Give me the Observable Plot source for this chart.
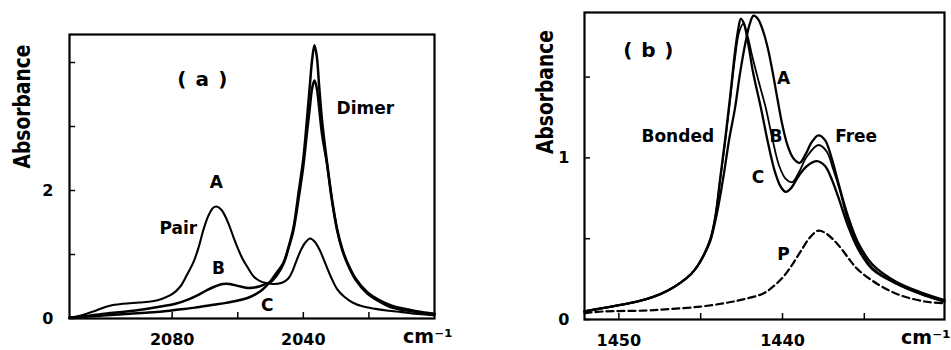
<!DOCTYPE html>
<html>
<head>
<meta charset="utf-8">
<script src="https://cdn.jsdelivr.net/npm/d3@7"></script>
<script src="https://cdn.jsdelivr.net/npm/@observablehq/plot@0.6"></script>
<style>
  html, body { margin: 0; padding: 0; background: #fff; }
  #wrap { position: relative; width: 951px; height: 350px; background: #fff; }
  #wrap svg { position: absolute; top: 0; }
</style>
</head>
<body>
<div id="wrap"></div>
<script>
// ---------- Panel (a): CO stretch region, wavenumber (cm-1) vs absorbance ----------
const aCurveA = [[2111.3,0.01],[2107,0.06],[2103,0.13],[2099,0.20],[2095,0.23],[2090,0.25],[2086,0.27],[2083,0.31],[2080,0.38],[2077.5,0.50],[2075.5,0.68],[2073.5,0.88],[2072,1.10],[2070.5,1.38],[2069,1.60],[2067.5,1.73],[2066.5,1.75],[2065,1.70],[2063.2,1.53],[2061.5,1.30],[2060,1.10],[2058.5,0.93],[2057,0.80],[2055,0.65],[2053,0.58],[2051,0.55],[2049,0.54],[2046.5,0.56],[2044.5,0.63],[2043.3,0.74],[2042.4,0.86],[2041,1.04],[2039.5,1.18],[2037.9,1.25],[2036.5,1.20],[2035,1.07],[2033.3,0.86],[2031.5,0.64],[2029.7,0.46],[2027.5,0.34],[2025,0.25],[2022,0.19],[2018,0.15],[2014,0.12],[2010,0.10],[2005,0.07],[2000,0.05]];
const aCurveB = [[2111.3,0.01],[2106,0.04],[2100,0.08],[2094,0.11],[2088,0.15],[2083,0.19],[2079,0.23],[2075,0.30],[2072,0.37],[2069.5,0.44],[2067,0.50],[2064.5,0.54],[2062.5,0.54],[2060,0.51],[2057.5,0.48],[2055.5,0.48],[2053.5,0.50],[2051.5,0.54],[2050,0.57],[2048,0.68],[2046,0.86],[2044.5,1.10],[2043,1.38],[2041.5,1.85],[2040,2.38],[2039,2.85],[2038,3.30],[2037.3,3.60],[2036.6,3.72],[2035.9,3.60],[2035.2,3.30],[2034.3,2.88],[2032.8,2.42],[2031.3,1.85],[2029.7,1.38],[2028.2,1.08],[2026.6,0.86],[2024,0.60],[2020.5,0.39],[2017,0.27],[2013.5,0.18],[2008,0.12],[2004,0.09],[2000,0.07]];
const aCurveC = [[2111.3,0.01],[2106,0.03],[2100,0.05],[2094,0.07],[2088,0.09],[2083,0.11],[2078,0.14],[2073,0.17],[2068,0.21],[2064,0.24],[2061,0.27],[2057,0.32],[2054.5,0.38],[2052.5,0.45],[2050.5,0.55],[2048.5,0.69],[2046,0.88],[2044.5,1.12],[2043,1.42],[2041.5,1.95],[2040,2.50],[2039,3.05],[2038,3.65],[2037.3,4.05],[2036.6,4.27],[2035.9,4.10],[2035.2,3.65],[2034.3,3.10],[2032.8,2.45],[2031.3,1.88],[2029.7,1.40],[2028.2,1.10],[2026.6,0.88],[2024,0.62],[2020.5,0.41],[2017,0.29],[2013,0.20],[2008,0.14],[2004,0.10],[2000,0.07]];
const aXTicks = [2080, 2060, 2040, 2020];
const aXTickLabels = [2080, 2040];
const aYTicks = [0, 1, 2, 3, 4];
const aYTickLabels = [0, 2];
const aLabelText = ["(a)", "A", "Pair", "B", "C", "Dimer"];
const aLabelX = [2070.8, 2066.5, 2078.1, 2065.9, 2051, 2021.1];
const aLabelY = [3.73, 2.12, 1.41, 0.78, 0.20, 3.28];

// ---------- Panel (b): CH2 bending region ----------
const bCurveA = [[1452.1,0.05],[1451,0.07],[1449.9,0.09],[1448.9,0.11],[1447.9,0.14],[1447,0.18],[1446.2,0.23],[1445.6,0.28],[1445.2,0.33],[1444.8,0.40],[1444.4,0.49],[1444.0,0.66],[1443.6,0.89],[1443.25,1.12],[1442.9,1.31],[1442.6,1.52],[1442.25,1.72],[1442.0,1.83],[1441.77,1.88],[1441.5,1.86],[1441.2,1.79],[1440.9,1.68],[1440.6,1.53],[1440.3,1.36],[1440.0,1.20],[1439.7,1.08],[1439.35,1.00],[1438.95,0.97],[1438.6,1.02],[1438.2,1.10],[1437.8,1.14],[1437.4,1.11],[1437.0,1.00],[1436.6,0.85],[1436.0,0.64],[1435.4,0.48],[1434.5,0.34],[1433.0,0.23],[1431.6,0.17],[1430.1,0.12]];
const bCurveB = [[1452.1,0.05],[1451,0.07],[1449.9,0.09],[1448.9,0.11],[1447.9,0.14],[1447,0.18],[1446.2,0.23],[1445.6,0.28],[1445.2,0.33],[1444.8,0.40],[1444.4,0.50],[1444.1,0.64],[1443.8,0.87],[1443.5,1.10],[1443.2,1.36],[1442.9,1.62],[1442.65,1.78],[1442.4,1.83],[1442.15,1.76],[1441.85,1.63],[1441.5,1.49],[1441.0,1.30],[1440.6,1.11],[1440.2,0.95],[1439.8,0.87],[1439.4,0.85],[1439.0,0.91],[1438.5,1.01],[1437.8,1.08],[1437.3,1.04],[1436.9,0.93],[1436.5,0.80],[1436.0,0.61],[1435.4,0.46],[1434.5,0.32],[1433.0,0.22],[1431.6,0.16],[1430.1,0.11]];
const bCurveC = [[1452.1,0.05],[1451,0.07],[1449.9,0.09],[1448.9,0.11],[1447.9,0.14],[1447,0.18],[1446.2,0.23],[1445.6,0.28],[1445.2,0.33],[1444.8,0.40],[1444.4,0.50],[1444.1,0.64],[1443.8,0.88],[1443.5,1.12],[1443.2,1.38],[1442.9,1.66],[1442.7,1.80],[1442.55,1.86],[1442.35,1.83],[1442.1,1.71],[1441.8,1.53],[1441.3,1.30],[1440.9,1.10],[1440.45,0.91],[1440.1,0.82],[1439.8,0.79],[1439.5,0.81],[1439.0,0.89],[1438.5,0.95],[1437.9,0.98],[1437.4,0.95],[1437.0,0.87],[1436.6,0.76],[1436.0,0.58],[1435.4,0.44],[1434.5,0.31],[1433.0,0.22],[1431.6,0.16],[1430.1,0.11]];
const bCurveP = [[1452.1,0.04],[1450.9,0.05],[1448.5,0.055],[1446.8,0.065],[1445,0.08],[1443.6,0.10],[1442.6,0.12],[1441.2,0.16],[1440.5,0.21],[1439.9,0.27],[1439.4,0.34],[1438.9,0.42],[1438.3,0.51],[1437.8,0.55],[1437.3,0.53],[1436.5,0.45],[1435.9,0.37],[1435.4,0.31],[1434.2,0.22],[1432.8,0.15],[1431.2,0.11],[1430.1,0.10]];
const bXTicks = [1450, 1445, 1440, 1435];
const bXTickLabels = [1450, 1440];
const bYTicks = [0, 0.5, 1, 1.5];
const bYTickLabels = [0, 1];
const bLabelText = ["(b)", "Bonded", "A", "B", "C", "Free", "P"];
const bLabelX = [1448.2, 1446.4, 1439.94, 1440.4, 1441.5, 1435.5, 1439.94];
const bLabelY = [1.667, 1.13, 1.49, 1.13, 0.877, 1.13, 0.40];

const toRows = (series, pts) => pts.map(([wn, abs]) => ({series, wn, abs}));
const zip = (t, xs, ys) => t.map((s, i) => ({t: s, x: xs[i], y: ys[i]}));

function panel({width, marginLeft, marginRight, marginTop, marginBottom, xDomain, yDomain,
                solid, dashed, xTicks, xTickLabels, yTicks, yTickLabels, labels,
                yLabelDx, yLabelDy, unitDx, yPad, solidWidth}) {
  const h = 350, fw = width - marginLeft - marginRight, fh = h - marginTop - marginBottom;
  const marks = [
    Plot.frame({strokeWidth: 2.2}),
    Plot.tickX(xTicks, {x: d => d, insetTop: fh - 6, strokeWidth: 1.5}),
    Plot.tickY(yTicks, {y: d => d, insetRight: fw - 6, strokeWidth: 1.5}),
    Plot.axisX({ticks: xTickLabels, tickSize: 0, tickPadding: 15, tickFormat: d => String(d), label: null, fontSize: 16}),
    Plot.axisY({ticks: yTickLabels, tickSize: 0, tickPadding: yPad, tickFormat: d => String(d), label: null, fontSize: 16}),
    Plot.line(solid, {x: "wn", y: "abs", z: "series", stroke: "black", strokeWidth: d => solidWidth[d.series], curve: "catmull-rom"}),
  ];
  if (dashed) marks.push(Plot.line(dashed, {x: "wn", y: "abs", stroke: "black", strokeWidth: 2.2, strokeDasharray: "7,4", curve: "catmull-rom"}));
  marks.push(
    Plot.text(labels, {x: "x", y: "y", text: "t", fontSize: 17, fontWeight: "bold"}),
    Plot.text(["Absorbance"], {frameAnchor: "left", text: d => d, rotate: -90, dx: yLabelDx, dy: yLabelDy, fontSize: 23, fontWeight: "bold"}),
    Plot.text(["cm\u207B\u00B9"], {frameAnchor: "bottom-right", text: d => d, textAnchor: "end", lineAnchor: "top", dx: unitDx, dy: 11, fontSize: 19, fontWeight: "bold"})
  );
  const svg = Plot.plot({
    width, height: h, marginLeft, marginRight, marginTop, marginBottom,
    x: {domain: xDomain},
    y: {domain: yDomain},
    style: {background: "white", color: "black", fontFamily: "'DejaVu Sans', sans-serif", fontWeight: "bold", fontSize: "17px", overflow: "visible"},
    marks
  });
  d3.select(svg).selectAll("text").each(function () {
    const t = this.textContent;
    if (t === "Absorbance") d3.select(this).attr("textLength", 124).attr("lengthAdjust", "spacingAndGlyphs");
    if (t === "(a)" || t === "(b)") d3.select(this).attr("textLength", 50).attr("lengthAdjust", "spacing").style("font-size", "20px");
  });
  return svg;
}

const wrap = document.getElementById("wrap");

const svgA = panel({
  width: 475, marginLeft: 69, marginRight: 41, marginTop: 34, marginBottom: 32,
  xDomain: [2111.3, 2000], yDomain: [0, 4.4375],
  solid: [...toRows("A", aCurveA), ...toRows("B", aCurveB), ...toRows("C", aCurveC)],
  dashed: null,
  xTicks: aXTicks, xTickLabels: aXTickLabels, yTicks: aYTicks, yTickLabels: aYTickLabels,
  labels: zip(aLabelText, aLabelX, aLabelY),
  yLabelDx: -47, yLabelDy: -8, unitDx: 18, yPad: 16,
  solidWidth: {A: 2.1, B: 2.5, C: 2.5}
});
svgA.style.left = "0px";
wrap.appendChild(svgA);

const svgB = panel({
  width: 476, marginLeft: 109, marginRight: 7, marginTop: 12, marginBottom: 31,
  xDomain: [1452.1, 1430.1], yDomain: [0, 1.9],
  solid: [...toRows("A", bCurveA), ...toRows("B", bCurveB), ...toRows("C", bCurveC)],
  dashed: toRows("P", bCurveP),
  xTicks: bXTicks, xTickLabels: bXTickLabels, yTicks: bYTicks, yTickLabels: bYTickLabels,
  labels: zip(bLabelText, bLabelX, bLabelY),
  yLabelDx: -39, yLabelDy: -12, unitDx: 6, yPad: 15,
  solidWidth: {A: 2.3, B: 1.8, C: 2.3}
});
svgB.style.left = "475px";
wrap.appendChild(svgB);
</script>
</body>
</html>
